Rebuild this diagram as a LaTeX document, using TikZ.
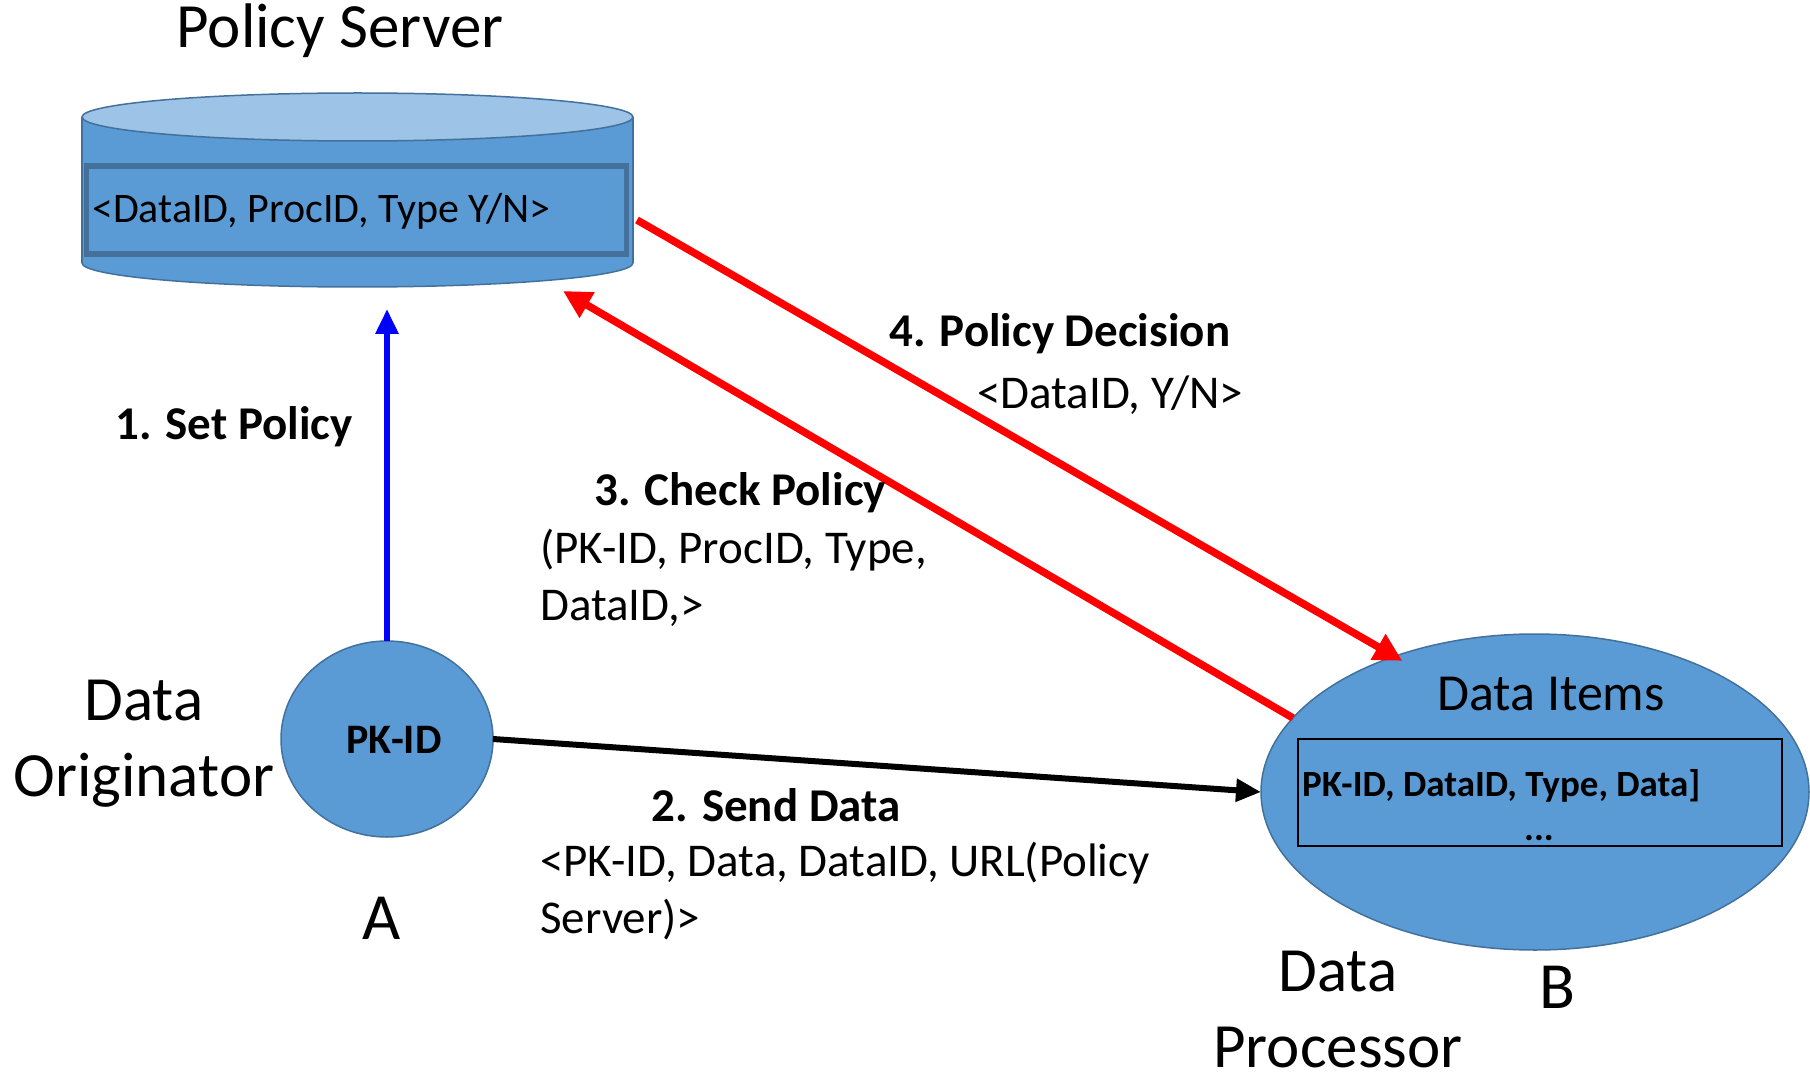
\documentclass[tikz,border=0pt]{standalone}
\usepackage{fontspec}
\setmainfont{Carlito}
\usetikzlibrary{arrows.meta,shapes.geometric}
\definecolor{fillblue}{HTML}{5B9BD5}
\definecolor{edgeblue}{HTML}{41719C}
\definecolor{topblue}{HTML}{9DC3E6}
\definecolor{rowedge}{HTML}{44709C}

\begin{document}
\begin{tikzpicture}[x=1pt,y=-1pt,
  big/.style={font=\fontsize{63}{76}\selectfont, inner sep=0pt, align=center},
  lbl/.style={font=\fontsize{47}{57}\selectfont, inner sep=0pt, align=left},
  lblb/.style={font=\bfseries\fontsize{47}{57}\selectfont, inner sep=0pt},
  blob/.style={ellipse, fill=fillblue, draw=edgeblue, line width=1.5pt, inner sep=0pt, outer sep=0pt},
  flow/.style={line width=6pt, -{Triangle[length=25pt,width=22pt]}},
  redflow/.style={red, line width=7.5pt, -{Triangle[length=28pt,width=28pt]}},
]
\useasboundingbox (0,0) rectangle (1810,1075);

% Policy server cylinder
\fill[fillblue] (357.5,263) ellipse[x radius=275.5, y radius=24];
\draw[edgeblue, line width=1.5pt] (357.5,263) ellipse[x radius=275.5, y radius=24];
\fill[fillblue] (82,117) rectangle (633,263);
\draw[edgeblue, line width=1.5pt] (82,117) -- (82,263) (633,117) -- (633,263);
\filldraw[fill=topblue, draw=edgeblue, line width=1.5pt] (357.5,117) ellipse[x radius=275.5, y radius=24];
\node[draw=rowedge, line width=5.5pt, minimum width=540pt, minimum height=88pt, inner sep=0pt] (psrow) at (356.5,210) {};
\node[anchor=west, inner sep=0pt, font=\fontsize{42}{50}\selectfont] (pstext) at (92,211.5) {<DataID, ProcID, Type Y/N>};
\node[big] (pstitle) at (340,31) {Policy Server};

\coordinate (ps-set) at (387,309);
\coordinate (ps-out) at (637,220);
\coordinate (ps-in) at (563,291);

% Data originator
\node[blob, minimum width=212pt, minimum height=196pt] (pk) at (387,739) {};
\node[inner sep=0pt, font=\bfseries\fontsize{42}{50}\selectfont] (pklbl) at (394,740) {PK-ID};
\node[big] (orig) at (144,744) {Data\\Originator};
\node[inner sep=0pt, font=\fontsize{66}{76}\selectfont] (la) at (382,918) {A};

% Data processor
\node[blob, minimum width=548pt, minimum height=316pt] (dp) at (1535,792) {};
\node[inner sep=0pt, font=\fontsize{52}{60}\selectfont] (items) at (1551,694) {Data Items};
\node[draw=black, line width=2.5pt, minimum width=484pt, minimum height=107pt, inner sep=0pt] (dprow) at (1540,792.5) {};
\node[anchor=west, inner sep=0pt, font=\bfseries\fontsize{37}{44}\selectfont] (dptext) at (1302,786) {PK-ID, DataID, Type, Data]};
\node[inner sep=0pt, font=\bfseries\fontsize{37}{44}\selectfont] (dpdots) at (1539,838) {...};
\node[big] (proc) at (1338,1010) {Data\\Processor};
\node[inner sep=0pt, font=\fontsize{66}{76}\selectfont] (lb) at (1557,987) {B};

% Messages
\draw[flow, blue] (pk.north) -- (ps-set);
\draw[flow, black] (pk.east) -- (dp.west);
\draw[redflow, shorten >=-9pt] (ps-out) -- (dp.136);
\draw[redflow] (dp.163) -- (ps-in);

% Message labels
\node[lblb] (m1) at (234,427) {1. Set Policy};
\node[lblb] (m2) at (776,805) {2. Send Data};
\node[lbl, anchor=west] (m2d) at (540,891.5) {<PK-ID, Data, DataID, URL(Policy\\Server)>};
\node[lblb, anchor=west] (m3) at (594,493) {3. Check Policy};
\node[lbl, anchor=west] (m3d) at (540,578) {(PK-ID, ProcID, Type,\\DataID,>};
\node[lblb, anchor=west] (m4) at (889,334) {4. Policy Decision};
\node[lbl, anchor=west] (m4d) at (977,395) {<DataID, Y/N>};
\end{tikzpicture}
\end{document}
